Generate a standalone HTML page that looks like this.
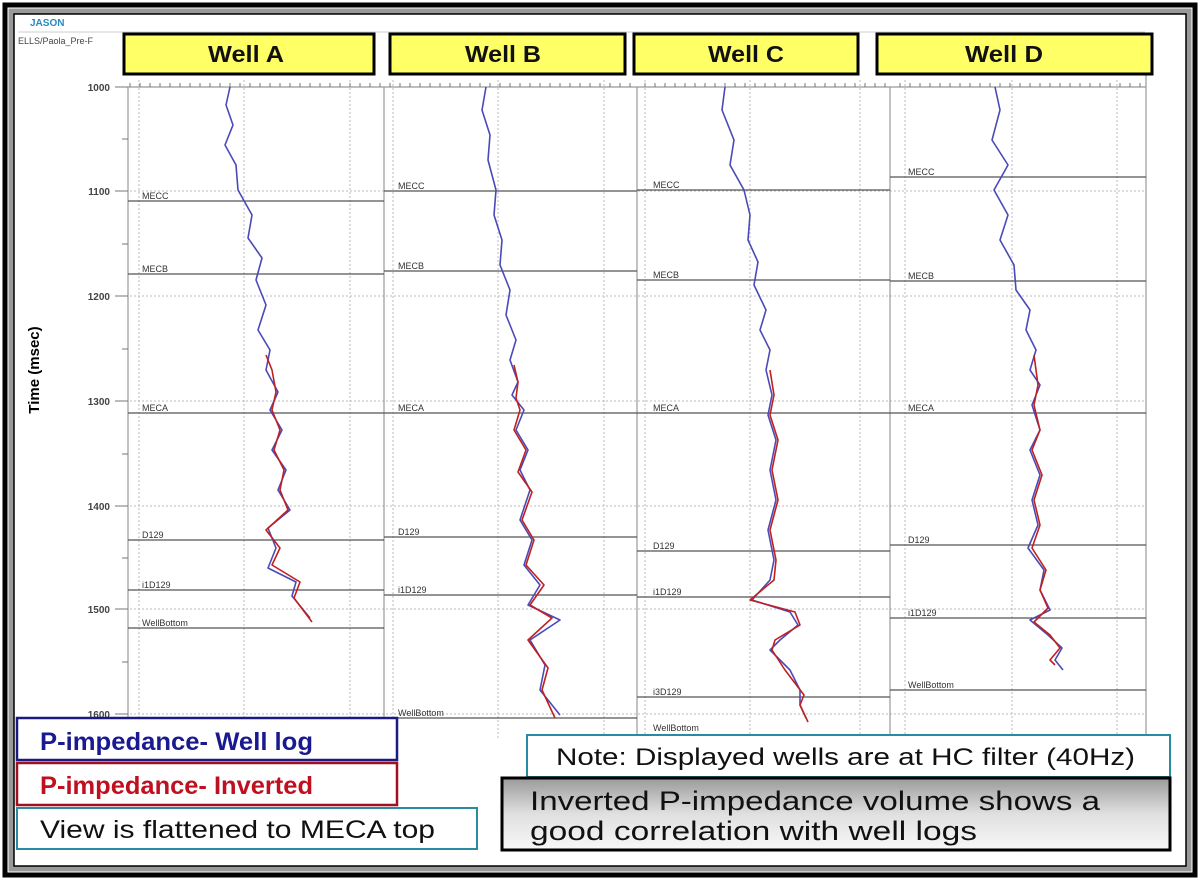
<!DOCTYPE html>
<html><head><meta charset="utf-8"><style>
html,body{margin:0;padding:0;background:#fff;}
body{width:1200px;height:880px;position:relative;overflow:hidden;font-family:"Liberation Sans",Arial,sans-serif;}
</style></head><body>
<svg width="1200" height="880" style="position:absolute;left:0;top:0" font-family="Liberation Sans, sans-serif">
<rect x="0" y="0" width="1200" height="880" fill="#fff"/>
<rect x="5" y="5" width="1190" height="870" fill="none" stroke="#000" stroke-width="5"/>
<rect x="11" y="11" width="1178" height="858" fill="none" stroke="#999" stroke-width="5"/>
<rect x="14" y="14" width="1172" height="852" fill="none" stroke="#000" stroke-width="1.5"/>
<text x="30" y="26" font-size="10" font-weight="bold" fill="#2a8ac0">JASON</text>
<text x="18" y="44" font-size="9" fill="#444">ELLS/Paola_Pre-F</text>
<line x1="18" y1="32" x2="1145" y2="32" stroke="#ccc"/>
<g stroke="#bbb" stroke-width="1" stroke-dasharray="2,2">
<line x1="130" y1="191" x2="1145" y2="191"/><line x1="130" y1="296" x2="1145" y2="296"/>
<line x1="130" y1="401" x2="1145" y2="401"/><line x1="130" y1="506" x2="1145" y2="506"/>
<line x1="130" y1="609" x2="1145" y2="609"/><line x1="130" y1="714" x2="1145" y2="714"/>
<line x1="139" y1="80" x2="139" y2="740"/><line x1="244" y1="80" x2="244" y2="740"/><line x1="350" y1="80" x2="350" y2="740"/>
<line x1="393" y1="80" x2="393" y2="740"/><line x1="498" y1="80" x2="498" y2="740"/><line x1="604" y1="80" x2="604" y2="740"/>
<line x1="645" y1="80" x2="645" y2="740"/><line x1="750" y1="80" x2="750" y2="740"/><line x1="860" y1="80" x2="860" y2="740"/>
<line x1="905" y1="80" x2="905" y2="740"/><line x1="1012" y1="80" x2="1012" y2="740"/><line x1="1117" y1="80" x2="1117" y2="740"/>
</g>
<g stroke="#999" stroke-width="1.2">
<line x1="128" y1="87" x2="128" y2="740"/><line x1="384" y1="87" x2="384" y2="740"/>
<line x1="637" y1="87" x2="637" y2="740"/><line x1="890" y1="87" x2="890" y2="740"/><line x1="1146" y1="60" x2="1146" y2="740"/>
<line x1="128" y1="87" x2="1146" y2="87"/>
</g>
<g stroke="#777" stroke-width="1">
<path d="M130 87v-4M140 87v-4M150 87v-4M160 87v-4M170 87v-4M180 87v-4M190 87v-4M200 87v-4M210 87v-4M220 87v-4M230 87v-4M240 87v-4M250 87v-4M260 87v-4M270 87v-4M280 87v-4M290 87v-4M300 87v-4M310 87v-4M320 87v-4M330 87v-4M340 87v-4M350 87v-4M360 87v-4M370 87v-4M380 87v-4"/>
<path d="M390 87v-4M400 87v-4M410 87v-4M420 87v-4M430 87v-4M440 87v-4M450 87v-4M460 87v-4M470 87v-4M480 87v-4M490 87v-4M500 87v-4M510 87v-4M520 87v-4M530 87v-4M540 87v-4M550 87v-4M560 87v-4M570 87v-4M580 87v-4M590 87v-4M600 87v-4M610 87v-4M620 87v-4M630 87v-4"/>
<path d="M645 87v-4M655 87v-4M665 87v-4M675 87v-4M685 87v-4M695 87v-4M705 87v-4M715 87v-4M725 87v-4M735 87v-4M745 87v-4M755 87v-4M765 87v-4M775 87v-4M785 87v-4M795 87v-4M805 87v-4M815 87v-4M825 87v-4M835 87v-4M845 87v-4M855 87v-4M865 87v-4M875 87v-4M885 87v-4"/>
<path d="M900 87v-4M910 87v-4M920 87v-4M930 87v-4M940 87v-4M950 87v-4M960 87v-4M970 87v-4M980 87v-4M990 87v-4M1000 87v-4M1010 87v-4M1020 87v-4M1030 87v-4M1040 87v-4M1050 87v-4M1060 87v-4M1070 87v-4M1080 87v-4M1090 87v-4M1100 87v-4M1110 87v-4M1120 87v-4M1130 87v-4M1140 87v-4"/>
<path d="M115 87h13M115 191h13M115 296h13M115 401h13M115 506h13M115 609h13M115 714h13M122 139h6M122 244h6M122 349h6M122 454h6M122 558h6M122 662h6"/>
</g>
<g font-size="10" font-weight="bold" fill="#444" text-anchor="end">
<text x="110" y="91">1000</text><text x="110" y="195">1100</text><text x="110" y="300">1200</text>
<text x="110" y="405">1300</text><text x="110" y="510">1400</text><text x="110" y="613">1500</text><text x="110" y="718">1600</text>
</g>
<text transform="translate(39,370) rotate(-90)" font-size="15" font-weight="bold" text-anchor="middle" fill="#000">Time (msec)</text>
<g stroke="#555" stroke-width="1.3">
<line x1="128" y1="201" x2="384" y2="201"/><line x1="128" y1="274" x2="384" y2="274"/><line x1="128" y1="413" x2="384" y2="413"/>
<line x1="128" y1="540" x2="384" y2="540"/><line x1="128" y1="590" x2="384" y2="590"/><line x1="128" y1="628" x2="384" y2="628"/>
<line x1="384" y1="191" x2="637" y2="191"/><line x1="384" y1="271" x2="637" y2="271"/><line x1="384" y1="413" x2="637" y2="413"/>
<line x1="384" y1="537" x2="637" y2="537"/><line x1="384" y1="595" x2="637" y2="595"/><line x1="384" y1="718" x2="637" y2="718"/>
<line x1="637" y1="190" x2="890" y2="190"/><line x1="637" y1="280" x2="890" y2="280"/><line x1="637" y1="413" x2="890" y2="413"/>
<line x1="637" y1="551" x2="890" y2="551"/><line x1="637" y1="597" x2="890" y2="597"/><line x1="637" y1="697" x2="890" y2="697"/>
<line x1="890" y1="177" x2="1146" y2="177"/><line x1="890" y1="281" x2="1146" y2="281"/><line x1="890" y1="413" x2="1146" y2="413"/>
<line x1="890" y1="545" x2="1146" y2="545"/><line x1="890" y1="618" x2="1146" y2="618"/><line x1="890" y1="690" x2="1146" y2="690"/>
</g>
<g font-size="9" fill="#333">
<text x="142" y="199">MECC</text><text x="142" y="272">MECB</text><text x="142" y="411">MECA</text><text x="142" y="538">D129</text><text x="142" y="588">i1D129</text><text x="142" y="626">WellBottom</text>
<text x="398" y="189">MECC</text><text x="398" y="269">MECB</text><text x="398" y="411">MECA</text><text x="398" y="535">D129</text><text x="398" y="593">i1D129</text><text x="398" y="716">WellBottom</text>
<text x="653" y="188">MECC</text><text x="653" y="278">MECB</text><text x="653" y="411">MECA</text><text x="653" y="549">D129</text><text x="653" y="595">i1D129</text><text x="653" y="695">i3D129</text><text x="653" y="731">WellBottom</text>
<text x="908" y="175">MECC</text><text x="908" y="279">MECB</text><text x="908" y="411">MECA</text><text x="908" y="543">D129</text><text x="908" y="616">i1D129</text><text x="908" y="688">WellBottom</text>
</g>
<g fill="none" stroke-width="1.6" stroke-linejoin="round">
<path stroke="#4a4ab8" d="M230 87 L226 105 L233 125 L225 145 L236 165 L238 190 L252 215 L248 238 L262 258 L256 280 L266 305 L258 330 L270 350 L266 370 L278 392 L270 410 L282 430 L272 450 L286 470 L278 490 L290 510 L268 528 L276 548 L268 568 L296 582 L292 596 L310 618"/>
<path stroke="#c02020" d="M266 355 L272 370 L276 392 L272 410 L280 430 L274 450 L284 470 L280 490 L288 510 L266 530 L280 548 L272 565 L300 582 L294 598 L312 622"/>
<path stroke="#4a4ab8" d="M486 87 L482 110 L490 135 L488 160 L496 190 L494 215 L502 240 L500 265 L510 290 L506 315 L516 340 L510 360 L518 382 L512 395 L524 410 L516 430 L528 450 L520 470 L530 490 L520 520 L532 540 L524 565 L540 585 L528 605 L560 620 L530 640 L545 665 L540 690 L560 715"/>
<path stroke="#c02020" d="M514 365 L518 382 L516 398 L520 410 L514 430 L526 450 L518 472 L532 492 L522 520 L534 540 L526 565 L544 585 L530 605 L552 618 L528 640 L548 668 L542 690 L555 718"/>
<path stroke="#4a4ab8" d="M725 87 L722 110 L734 140 L730 165 L744 190 L750 215 L748 240 L758 262 L754 285 L766 310 L760 330 L770 350 L766 370 L772 395 L768 415 L776 440 L770 470 L776 500 L768 530 L774 560 L770 580 L752 600 L790 612 L798 625 L780 640 L770 650 L790 670 L800 690 L800 705 L806 718"/>
<path stroke="#c02020" d="M770 370 L774 395 L770 415 L778 440 L772 470 L778 500 L770 530 L776 560 L774 580 L750 600 L795 612 L800 625 L775 640 L772 650 L785 670 L804 695 L800 705 L808 722"/>
<path stroke="#4a4ab8" d="M995 87 L1000 110 L992 140 L1008 165 L994 190 L1008 215 L1000 240 L1014 265 L1016 290 L1030 310 L1026 330 L1036 350 L1030 370 L1040 385 L1032 405 L1040 430 L1030 450 L1040 475 L1032 500 L1038 525 L1028 548 L1044 570 L1040 590 L1050 610 L1030 620 L1048 635 L1062 648 L1055 660 L1063 670"/>
<path stroke="#c02020" d="M1034 355 L1038 385 L1034 405 L1040 430 L1032 450 L1042 475 L1034 500 L1040 525 L1032 548 L1046 570 L1040 590 L1048 608 L1034 622 L1050 635 L1060 648 L1050 660 L1055 665"/>
</g>
<g fill="#ffff66" stroke="#000" stroke-width="3">
<rect x="124" y="34" width="250" height="40"/><rect x="390" y="34" width="235" height="40"/>
<rect x="634" y="34" width="224" height="40"/><rect x="877" y="34" width="275" height="40"/>
</g>
<g font-size="23" font-weight="bold" fill="#111">
<text x="208" y="62" textLength="76" lengthAdjust="spacingAndGlyphs">Well A</text>
<text x="465" y="62" textLength="76" lengthAdjust="spacingAndGlyphs">Well B</text>
<text x="708" y="62" textLength="76" lengthAdjust="spacingAndGlyphs">Well C</text>
<text x="965" y="62" textLength="78" lengthAdjust="spacingAndGlyphs">Well D</text>
</g>
<defs><linearGradient id="g" x1="0" y1="0" x2="0" y2="1"><stop offset="0" stop-color="#9a9a9a"/><stop offset="0.5" stop-color="#e0e0e0"/><stop offset="1" stop-color="#f8f8f8"/></linearGradient></defs>
<rect x="17" y="718" width="380" height="42" fill="#fff" stroke="#1a1a80" stroke-width="2.5"/>
<text x="40" y="750" font-size="25" font-weight="bold" fill="#1a1a90" textLength="273" lengthAdjust="spacingAndGlyphs">P-impedance- Well log</text>
<rect x="17" y="763" width="380" height="42" fill="#fff" stroke="#a01020" stroke-width="2.5"/>
<text x="40" y="794" font-size="25" font-weight="bold" fill="#c01020" textLength="273" lengthAdjust="spacingAndGlyphs">P-impedance- Inverted</text>
<rect x="17" y="808" width="460" height="41" fill="#fff" stroke="#2a8aa0" stroke-width="2"/>
<text x="40" y="838" font-size="25" fill="#111" textLength="395" lengthAdjust="spacingAndGlyphs">View is flattened to MECA top</text>
<rect x="527" y="735" width="643" height="42" fill="#fff" stroke="#2a8aa0" stroke-width="2"/>
<text x="556" y="765" font-size="24" fill="#111" textLength="579" lengthAdjust="spacingAndGlyphs">Note:  Displayed wells  are at HC filter (40Hz)</text>
<rect x="502" y="778" width="668" height="72" fill="url(#g)" stroke="#000" stroke-width="3"/>
<text x="530" y="810" font-size="27" fill="#111" textLength="570" lengthAdjust="spacingAndGlyphs">Inverted P-impedance volume shows a</text>
<text x="530" y="840" font-size="27" fill="#111" textLength="447" lengthAdjust="spacingAndGlyphs">good correlation with well logs</text>
</svg>
</body></html>
